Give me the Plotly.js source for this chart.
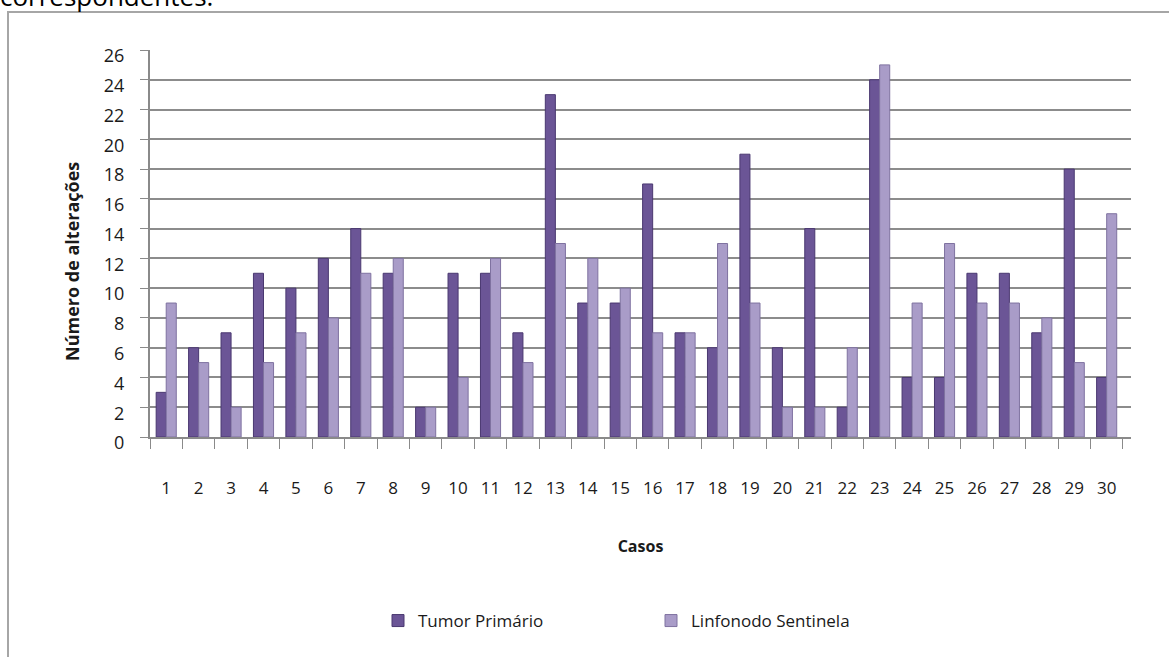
<!DOCTYPE html>
<html>
<head>
<meta charset="utf-8">
<script src="https://cdn.plot.ly/plotly-3.0.1.min.js"></script>
<style>
  html, body { margin: 0; padding: 0; background: #ffffff; }
  #chart { width: 1169px; height: 657px; }
</style>
</head>
<body>
<div id="chart"></div>
<script>
// Number of alterations per case: primary tumour vs sentinel lymph node
const casos = ['1','2','3','4','5','6','7','8','9','10','11','12','13','14','15',
               '16','17','18','19','20','21','22','23','24','25','26','27','28','29','30'];
const tumorPrimario = [3, 6, 7, 11, 10, 12, 14, 11, 2, 11, 11, 7, 23, 9, 9,
                       17, 7, 6, 19, 6, 14, 2, 24, 4, 4, 11, 11, 7, 18, 4];
const linfonodoSentinela = [9, 5, 2, 5, 7, 8, 11, 12, 2, 4, 12, 5, 13, 12, 10,
                            7, 7, 13, 9, 2, 2, 6, 25, 9, 13, 9, 9, 8, 5, 15];
const yTicks = [0, 2, 4, 6, 8, 10, 12, 14, 16, 18, 20, 22, 24, 26];

// plot-area geometry in pixels, used to place the free-standing texts and frame
const W = 1169, H = 657;
const L = 150, R = 1131, T = 50, B = 437;
const px2x = p => (p - L) / (R - L);
const px2y = p => (B - p) / (B - T);

const FONT = 'Open Sans, Lato, sans-serif';

const traces = [
  {
    type: 'bar', name: 'Tumor Primário', x: casos, y: tumorPrimario,
    marker: { color: '#6b5596', line: { color: '#4a3870', width: 1 } }
  },
  {
    type: 'bar', name: 'Linfonodo Sentinela', x: casos, y: linfonodoSentinela,
    marker: { color: '#a99cc8', line: { color: '#7f72a0', width: 1 } }
  }
];

const layout = {
  width: W, height: H,
  margin: { l: L, r: W - R, t: T, b: H - B, pad: 0 },
  paper_bgcolor: '#ffffff', plot_bgcolor: '#ffffff',
  barmode: 'group', bargap: 0.38, bargroupgap: 0,
  font: { family: FONT, color: '#1a1a1a', size: 16 },
  showlegend: true,
  legend: {
    orientation: 'h', xref: 'container', yref: 'container',
    x: 651 / W, xanchor: 'center', y: 1 - 621 / H, yanchor: 'middle',
    font: { family: FONT, size: 17, color: '#1a1a1a' },
    entrywidth: 228, traceorder: 'normal'
  },
  xaxis: {
    type: 'category', range: [-0.5, 29.75],
    tickson: 'boundaries', ticks: 'outside', ticklen: 10, tickwidth: 1, tickcolor: '#8a8a8a',
    ticklabelstandoff: 35,
    tickfont: { family: FONT, size: 17, color: '#1a1a1a' },
    showline: true, linecolor: '#8a8a8a', linewidth: 2,
    showgrid: false, zeroline: false, fixedrange: true,
    title: { text: 'Casos', standoff: 42, font: { family: FONT, size: 16, weight: 'bold', color: '#1a1a1a' } }
  },
  yaxis: {
    range: [0, 26], tickvals: yTicks, ticktext: yTicks.map(String),
    ticks: 'outside', ticklen: 8, tickwidth: 1, tickcolor: '#8a8a8a',
    ticklabelstandoff: 12, ticklabelshift: 6,
    tickfont: { family: FONT, size: 18, color: '#1a1a1a' },
    showline: true, linecolor: '#8a8a8a', linewidth: 2,
    showgrid: true, gridcolor: '#8c8c8c', gridwidth: 2,
    zeroline: false, fixedrange: true
  },
  annotations: [
    {
      text: 'Número de alterações', textangle: -90,
      xref: 'paper', yref: 'paper', x: px2x(72), y: px2y(262),
      xanchor: 'center', yanchor: 'middle', showarrow: false,
      font: { family: FONT, size: 18, weight: 'bold', color: '#1a1a1a' }
    },
    {
      text: 'correspondentes.',
      xref: 'paper', yref: 'paper', x: px2x(-2), y: px2y(-4),
      xanchor: 'left', yanchor: 'middle', showarrow: false,
      font: { family: FONT, size: 26, color: '#000000' }
    }
  ],
  shapes: [
    { type: 'line', xref: 'paper', yref: 'paper', x0: px2x(8), x1: px2x(8), y0: px2y(12), y1: px2y(H + 5),
      line: { color: '#a6a6a6', width: 2 } },
    { type: 'line', xref: 'paper', yref: 'paper', x0: px2x(7), x1: px2x(W + 5), y0: px2y(12), y1: px2y(12),
      line: { color: '#a6a6a6', width: 2 } }
  ]
};

Plotly.newPlot('chart', traces, layout, { staticPlot: true, displayModeBar: false });
</script>
</body>
</html>
